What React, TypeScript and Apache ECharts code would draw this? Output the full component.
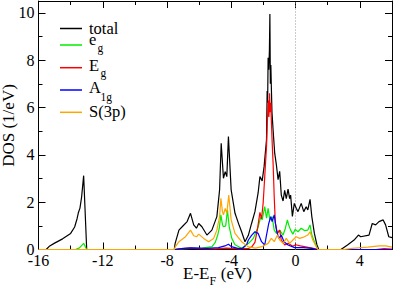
import React, { useEffect, useRef } from "react";
import * as echarts from "echarts";

const FONT = "Liberation Serif";

const xTickValues = [-16, -12, -8, -4, 0, 4];
const yTickValues = [0, 2, 4, 6, 8, 10];

const totalPts: [number, number][] = [
  [-16, 0], [-15.52, 0], [-15.3, 0.15], [-15.0, 0.27], [-14.5, 0.45], [-14.0, 0.68],
  [-13.75, 0.95], [-13.6, 1.3], [-13.52, 1.55], [-13.42, 1.75], [-13.32, 2.2],
  [-13.19, 3.12], [-13.0, 0], [-7.55, 0], [-7.5, 0.25], [-7.26, 0.82], [-7.06, 0.96],
  [-6.75, 1.18], [-6.54, 1.53], [-6.34, 1.04], [-6.17, 0.9], [-6.03, 1.1], [-5.83, 0.96],
  [-5.52, 0.61], [-5.21, 0.82], [-4.9, 1.39], [-4.73, 2.52], [-4.63, 4.49], [-4.49, 3.01],
  [-4.38, 3.29], [-4.28, 3.08], [-4.18, 4.77], [-4.01, 2.52], [-3.77, 1.53], [-3.5, 1.0],
  [-3.36, 0.75], [-3.15, 0.33], [-2.94, 0.6], [-2.74, 1.1], [-2.53, 1.6], [-2.33, 2.4],
  [-2.22, 3.08], [-2.08, 2.9], [-1.96, 3.5], [-1.81, 4.63], [-1.77, 6.7], [-1.74, 6.2],
  [-1.71, 8.1], [-1.67, 7.6], [-1.63, 8.4], [-1.6, 9.95], [-1.57, 7.0], [-1.54, 7.8],
  [-1.51, 6.9], [-1.47, 5.8], [-1.4, 5.05], [-1.3, 4.07], [-1.2, 3.6], [-1.09, 2.95],
  [-0.99, 3.3], [-0.89, 2.3], [-0.78, 2.05], [-0.68, 2.5], [-0.58, 2.15], [-0.47, 2.55],
  [-0.37, 2.15], [-0.31, 2.3], [-0.2, 1.4], [-0.08, 1.95], [0.04, 1.74], [0.15, 1.6],
  [0.35, 1.95], [0.51, 1.6], [0.66, 1.81], [0.76, 1.67], [0.9, 2.12], [1.01, 1.39],
  [1.17, 0.68], [1.33, 0.19], [1.44, 0], [2.82, 0], [3.23, 0.19], [3.64, 0.4],
  [3.91, 0.61], [4.05, 0.54], [4.57, 0.61], [4.77, 1.1], [4.98, 1.04], [5.19, 1.18],
  [5.45, 1.25], [5.6, 1.04], [5.8, 0.54], [6, 0.5],
];

const egPts: [number, number][] = [
  [-16, 0], [-13.7, 0], [-13.45, 0.07], [-13.19, 0.26], [-13.0, 0], [-7.55, 0],
  [-7.3, 0.03], [-6.5, 0.05], [-5.8, 0.06], [-5.2, 0.12], [-5.0, 0.3], [-4.85, 0.6],
  [-4.75, 0.9], [-4.65, 1.46], [-4.55, 1.05], [-4.49, 0.96], [-4.35, 1.0], [-4.24, 1.67],
  [-4.13, 0.96], [-3.97, 0.47], [-3.77, 0.2], [-3.36, 0.05], [-3.05, 0.2], [-2.94, 0.25],
  [-2.63, 0.47], [-2.33, 0.96], [-2.16, 1.39], [-2.08, 1.25], [-1.92, 1.81], [-1.81, 1.32],
  [-1.71, 1.74], [-1.6, 1.25], [-1.46, 1.39], [-1.33, 0.82], [-1.19, 0.68], [-0.99, 0.82],
  [-0.78, 0.61], [-0.64, 0.89], [-0.51, 1.25], [-0.43, 1.04], [-0.31, 0.82], [-0.17, 0.65],
  [-0.02, 0.85], [0.15, 0.75], [0.35, 0.9], [0.55, 0.8], [0.76, 0.82], [0.9, 1.04],
  [1.01, 0.61], [1.17, 0.33], [1.38, 0], [6, 0],
];

const EgPts: [number, number][] = [
  [-16, 0], [-7.5, 0], [-7.2, 0.03], [-6.6, 0.06], [-6.0, 0.04], [-5.0, 0.03],
  [-4.3, 0.06], [-3.5, 0.03], [-2.9, 0.05], [-2.74, 0.1], [-2.53, 0.3], [-2.37, 0.87],
  [-2.22, 1.57], [-2.12, 1.3], [-2.02, 1.95], [-1.92, 3.08], [-1.81, 4.35], [-1.75, 5.5],
  [-1.7, 6.3], [-1.66, 5.6], [-1.62, 6.6], [-1.58, 5.8], [-1.54, 6.2], [-1.51, 5.48],
  [-1.45, 4.4], [-1.4, 3.64], [-1.33, 2.23], [-1.26, 1.1], [-1.13, 0.68], [-0.99, 0.82],
  [-0.89, 0.4], [-0.68, 0.19], [-0.47, 0.26], [-0.17, 0.14], [0.0, 0.2], [0.3, 0.15],
  [0.7, 0.1], [1.1, 0.05], [1.4, 0], [5.0, 0], [5.5, 0.04], [6, 0.02],
];

const a1gPts: [number, number][] = [
  [-16, 0], [-7.5, 0], [-7.0, 0.05], [-6.5, 0.07], [-5.5, 0.05], [-4.8, 0.08],
  [-4.4, 0.15], [-4.18, 0.22], [-4.0, 0.12], [-3.6, 0.05], [-3.3, 0.05], [-3.05, 0.2],
  [-2.94, 0.4], [-2.74, 0.6], [-2.53, 0.75], [-2.33, 0.68], [-2.12, 0.33], [-1.92, 0.19],
  [-1.81, 0.61], [-1.67, 1.1], [-1.55, 1.39], [-1.46, 1.18], [-1.33, 1.46], [-1.19, 0.82],
  [-1.05, 0.47], [-0.89, 0.61], [-0.72, 0.33], [-0.47, 0.19], [-0.06, 0.08], [0.5, 0.08],
  [1.0, 0.05], [1.3, 0], [6, 0],
];

const s3pPts: [number, number][] = [
  [-16, 0], [-7.55, 0], [-7.5, 0.1], [-7.26, 0.33], [-6.85, 0.54], [-6.54, 0.82],
  [-6.34, 0.58], [-6.15, 0.54], [-6.03, 0.65], [-5.72, 0.47], [-5.41, 0.33], [-5.1, 0.47],
  [-4.9, 0.82], [-4.73, 1.39], [-4.65, 2.16], [-4.55, 1.6], [-4.49, 1.46], [-4.38, 1.74],
  [-4.28, 1.53], [-4.16, 2.3], [-4.01, 1.25], [-3.77, 0.68], [-3.36, 0.33], [-2.94, 0.11],
  [-2.5, 0.06], [-2.1, 0.12], [-1.71, 0.26], [-1.51, 0.47], [-1.33, 0.33], [-1.13, 0.61],
  [-0.99, 0.4], [-0.78, 0.26], [-0.58, 0.47], [-0.37, 0.26], [-0.17, 0.4], [0.04, 0.54],
  [0.25, 0.47], [0.45, 0.51], [0.76, 0.61], [0.9, 0.75], [1.07, 0.4], [1.38, 0],
  [3.0, 0], [3.5, 0.05], [4.5, 0.1], [5.2, 0.15], [5.6, 0.15], [6, 0.1],
];

const seriesDefs = [
  { name: "total", color: "#000000", data: totalPts },
  { name: "eg", color: "#00ee00", data: egPts },
  { name: "Eg", color: "#ff0000", data: EgPts },
  { name: "A1g", color: "#0000ff", data: a1gPts },
  { name: "S(3p)", color: "#ffa500", data: s3pPts },
];

const legendDefs = [
  { main: "total", sub: "", color: "#000000", lineY: 28.5, textY: 28.5, subX: 0, subY: 0 },
  { main: "e", sub: "g", color: "#00ee00", lineY: 45, textY: 39.5, subX: 97.5, subY: 48 },
  { main: "E", sub: "g", color: "#ff0000", lineY: 67.7, textY: 65, subX: 100.5, subY: 73 },
  { main: "A", sub: "1g", color: "#0000ff", lineY: 90, textY: 87.5, subX: 100.5, subY: 96.5 },
  { main: "S(3p)", sub: "", color: "#ffa500", lineY: 112.3, textY: 111, subX: 0, subY: 0 },
];

const fontOf = (size: number) => `${size}px "${FONT}", serif`;

export default function App() {
  const ref = useRef<HTMLDivElement>(null);
  useEffect(() => {
    if (!ref.current) return;
    const chart = echarts.init(ref.current, null, { renderer: "svg" });
    const X0 = -16, X1 = 6, Y0 = 0, Y1 = 10.5;
    const axisLineStyle = { color: "#000", width: 1 };
    const mkX = (position: string, interval: number, len: number, labels: boolean, line: boolean) => ({
      type: "value", position, min: X0, max: X1, interval,
      axisLine: { show: line, onZero: false, lineStyle: axisLineStyle },
      axisTick: { show: true, inside: true, length: len, lineStyle: axisLineStyle },
      axisLabel: labels ? {
        show: true, margin: 3, color: "#000", fontFamily: FONT, fontSize: 16,
        formatter: (v: number) => (xTickValues.includes(v) ? String(v) : ""),
      } : { show: false },
      splitLine: { show: false },
    });
    const mkY = (position: string, interval: number, len: number, labels: boolean, line: boolean) => ({
      type: "value", position, min: Y0, max: Y1, interval,
      axisLine: { show: line, onZero: false, lineStyle: axisLineStyle },
      axisTick: { show: true, inside: true, length: len, lineStyle: axisLineStyle },
      axisLabel: labels ? {
        show: true, margin: 4, color: "#000", fontFamily: FONT, fontSize: 16,
        formatter: (v: number) => (yTickValues.includes(v) ? String(v) : ""),
      } : { show: false },
      splitLine: { show: false },
    });

    const txt = (text: string, x: number, y: number, size: number, extra: any = {}) => ({
      type: "text", x, y, ...extra,
      style: { text, font: fontOf(size), fill: "#000", align: extra.align || "left", verticalAlign: "middle" },
    });

    const graphic: any[] = [];
    legendDefs.forEach((d) => {
      graphic.push({
        type: "line", shape: { x1: 60, y1: d.lineY, x2: 82, y2: d.lineY },
        style: { stroke: d.color, lineWidth: 1.5 },
      });
      graphic.push(txt(d.main, 89, d.textY, 16.5));
      if (d.sub) graphic.push(txt(d.sub, d.subX, d.subY, 11.5));
    });
    graphic.push(txt("DOS (1/eV)", 8.5, 125.5, 17, { rotation: Math.PI / 2, align: "center" }));
    graphic.push(txt("E-E", 183, 273, 17));
    graphic.push(txt("F", 209.5, 281, 12));
    graphic.push(txt(" (eV)", 216.5, 273, 17));

    const series: any[] = seriesDefs.map((s, i) => ({
      name: s.name, type: "line", xAxisIndex: 0, yAxisIndex: 0,
      data: s.data, showSymbol: false, symbol: "none",
      lineStyle: { color: s.color, width: 1.2 },
      itemStyle: { color: s.color },
      silent: true,
      z: 3 + i,
      ...(i === 0 ? {
        markLine: {
          silent: true, symbol: "none", label: { show: false },
          lineStyle: { type: [1, 2], color: "#999999", width: 1 },
          data: [{ xAxis: 0 }],
          z: 1,
        },
      } : {}),
    }));

    chart.setOption({
      animation: false,
      backgroundColor: "#ffffff",
      textStyle: { fontFamily: FONT },
      grid: { left: 38.5, right: 1, top: 1, bottom: 38.5, containLabel: false },
      xAxis: [
        mkX("bottom", 4, 7, true, true),
        mkX("bottom", 2, 4, false, false),
        mkX("top", 4, 7, false, true),
        mkX("top", 2, 4, false, false),
      ],
      yAxis: [
        mkY("left", 2, 7, true, true),
        mkY("left", 1, 4, false, false),
        mkY("right", 2, 7, false, true),
        mkY("right", 1, 4, false, false),
      ],
      series,
      graphic,
    });
    return () => chart.dispose();
  }, []);
  return (
    <div
      ref={ref}
      style={{ position: "fixed", left: 0, top: 0, width: 395, height: 288, background: "#fff", fontFamily: FONT }}
    />
  );
}
